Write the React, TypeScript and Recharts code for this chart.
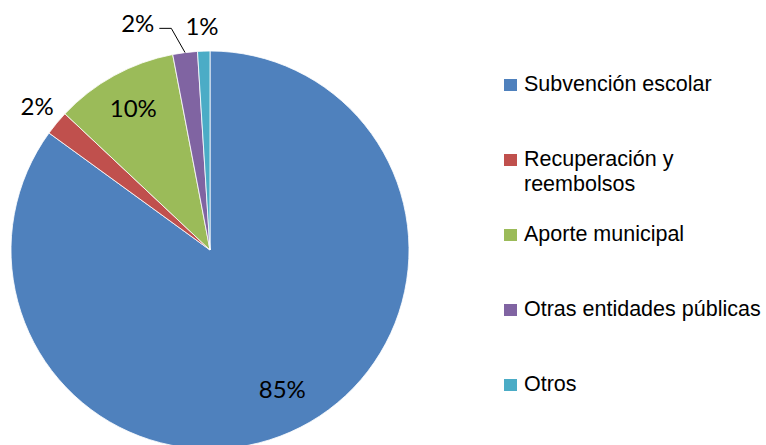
import { PieChart, Pie, Cell, Legend } from "recharts";

const categories = [
  "Subvención escolar",
  "Recuperación y reembolsos",
  "Aporte municipal",
  "Otras entidades públicas",
  "Otros",
];
const shares = [85, 2, 10, 2, 1];
const colors = ["#4F81BD", "#C0504D", "#9BBB59", "#8064A2", "#4BACC6"];
// where each percentage label goes
const labelModes = ["inside", "outside", "inside", "leader", "outside"];

const data = categories.map((name, i) => ({ name, value: shares[i] }));

const RAD = Math.PI / 180;
const labelFont = "Lato, 'Open Sans', sans-serif";

const polar = (cx: number, cy: number, r: number, deg: number) => ({
  x: cx + r * Math.cos(-deg * RAD),
  y: cy + r * Math.sin(-deg * RAD),
});

function renderLabel(props: any) {
  const { cx, cy, midAngle, outerRadius, index, value } = props;
  const mode = labelModes[index];
  const text = `${value}%`;
  const common = { fontFamily: labelFont, fontSize: 24, fill: "#000" };

  if (mode === "inside") {
    const p = polar(cx, cy, outerRadius * 0.8, midAngle);
    return (
      <text x={p.x} y={p.y - 3} textAnchor="middle" dominantBaseline="central" {...common}>
        {text}
      </text>
    );
  }
  if (mode === "outside") {
    const p = polar(cx, cy, outerRadius + 24, midAngle);
    return (
      <text x={p.x - 1} y={p.y - 2} textAnchor="middle" dominantBaseline="central" {...common}>
        {text}
      </text>
    );
  }
  // label pulled aside with a leader line
  const a = polar(cx, cy, outerRadius, midAngle);
  const b = polar(cx, cy, outerRadius + 26, midAngle + 2.7);
  const c = { x: b.x - 12, y: b.y };
  return (
    <g>
      <polyline
        points={`${a.x},${a.y} ${b.x},${b.y} ${c.x},${c.y}`}
        fill="none"
        stroke="#000"
        strokeWidth={1}
      />
      <text x={c.x - 5} y={c.y - 6} textAnchor="end" dominantBaseline="central" {...common}>
        {text}
      </text>
    </g>
  );
}

function LegendBox() {
  return (
    <div style={{ position: "relative", width: 262, height: 340 }}>
      {categories.map((name, i) => (
        <div
          key={name}
          style={{
            position: "absolute",
            left: 0,
            top: i * 75,
            display: "flex",
            alignItems: "flex-start",
          }}
        >
          <div
            style={{
              width: 13,
              height: 12,
              background: colors[i],
              marginTop: 7,
              marginRight: 7,
              flex: "none",
            }}
          />
          <div
            style={{
              width: 242,
              fontFamily: "'Liberation Sans', Arial, sans-serif",
              fontSize: 21.5,
              lineHeight: "25px",
              color: "#000",
            }}
          >
            {name}
          </div>
        </div>
      ))}
    </div>
  );
}

export default function App() {
  return (
    <div style={{ position: "absolute", left: 0, top: 0, width: 766, height: 445, background: "#fff", overflow: "hidden" }}>
      <PieChart width={766} height={445} margin={{ top: 0, right: 0, bottom: 0, left: 0 }}>
        <Pie
          data={data}
          dataKey="value"
          nameKey="name"
          cx={210}
          cy={250}
          outerRadius={199}
          startAngle={90}
          endAngle={-270}
          stroke="#fff"
          strokeWidth={0.8}
          label={renderLabel}
          labelLine={false}
          isAnimationActive={false}
        >
          {data.map((d, i) => (
            <Cell key={d.name} fill={colors[i]} />
          ))}
        </Pie>
        <Legend
          content={() => <LegendBox />}
          wrapperStyle={{ position: "absolute", left: 504, top: 72, width: 262 }}
        />
      </PieChart>
    </div>
  );
}
